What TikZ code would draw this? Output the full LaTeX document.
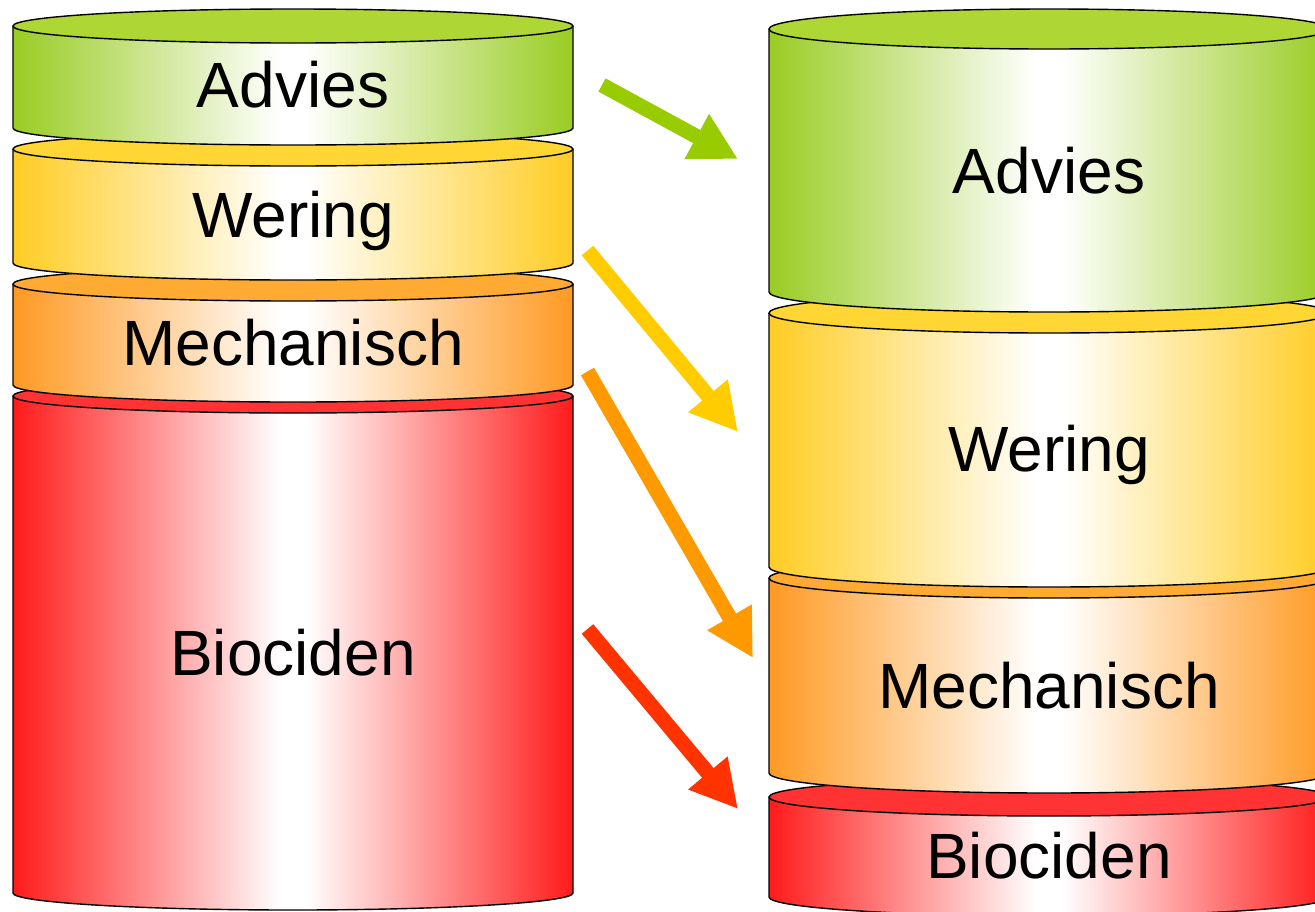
\documentclass[tikz,border=0pt]{standalone}
\usepackage{fontspec}
\setmainfont{Liberation Sans}
\usetikzlibrary{arrows.meta}
\definecolor{gEdge}{HTML}{99CC22}
\definecolor{gTop}{HTML}{AED634}
\definecolor{yEdge}{HTML}{FFCC22}
\definecolor{yTop}{HTML}{FFD633}
\definecolor{oEdge}{HTML}{FF9922}
\definecolor{oTop}{HTML}{FFAA33}
\definecolor{rEdge}{HTML}{FF1A1A}
\definecolor{rTop}{HTML}{FF3333}
\definecolor{gArrow}{HTML}{99CC00}
\definecolor{yArrow}{HTML}{FFCC00}
\definecolor{oArrow}{HTML}{FF9900}
\definecolor{rArrow}{HTML}{FF3300}
\newcommand\mycyl[6]{%
  \begin{scope}
    \clip ({#1-280},#2) -- ({#1-280},#3) arc[start angle=180,end angle=360,x radius=280pt,y radius=#4pt] -- ({#1+280},#2) -- cycle;
    \shade[left color=#5, right color=white] ({#1-281},{#2-1}) rectangle ({#1-13},{#3+#4+2});
    \fill[white] ({#1-14},{#2-1}) rectangle ({#1+14},{#3+#4+2});
    \shade[left color=white, right color=#5] ({#1+13},{#2-1}) rectangle ({#1+281},{#3+#4+2});
  \end{scope}
  \draw[cylline]
    ({#1-280},#2) -- ({#1-280},#3) arc[start angle=180,end angle=360,x radius=280pt,y radius=#4pt] -- ({#1+280},#2);
  \draw[cylline, fill=#6] (#1,#2) ellipse [x radius=280pt, y radius=#4pt];
}
\tikzset{
  cylline/.style={line width=1.4pt, black},
  label/.style={font=\fontsize{64}{72}\selectfont, anchor=base, inner sep=0pt},
  bigarrow/.style={line width=15pt, -{Triangle[length=47pt,width=48pt]}},
}
\begin{document}
\begin{tikzpicture}[x=1pt,y=-1pt]
\useasboundingbox (0,0) rectangle (1315,911);
\clip (0,0) rectangle (1315,911);
% right stack
\mycyl{1049}{797}{897}{19}{rEdge}{rTop}
\mycyl{1049}{578}{773}{20}{oEdge}{oTop}
\mycyl{1049}{313}{567}{20}{yEdge}{yTop}
\mycyl{1049}{29}{292}{20}{gEdge}{gTop}
% left stack
\mycyl{293}{396}{893}{17}{rEdge}{rTop}
\mycyl{293}{284}{385}{17}{oEdge}{oTop}
\mycyl{293}{149}{263}{17}{yEdge}{yTop}
\mycyl{293}{26}{128}{17}{gEdge}{gTop}
% labels
\node[label] (lA) at (293,107) {Advies};
\node[label] (lW) at (293,237) {Wering};
\node[label] (lM) at (293,365) {Mechanisch};
\node[label] (lB) at (293,675) {Biociden};
\node[label] (rA) at (1049,193) {Advies};
\node[label] (rW) at (1049,471) {Wering};
\node[label] (rM) at (1049,708) {Mechanisch};
\node[label] (rB) at (1049,878) {Biociden};
% arrows
\coordinate (gs) at (602,85);
\coordinate (ge) at (738,159);
\coordinate (ys) at (587.5,250.5);
\coordinate (ye) at (738,432);
\coordinate (os) at (587.5,371.5);
\coordinate (oe) at (753,658);
\coordinate (rs) at (587.5,629);
\coordinate (re) at (738,809);
\draw[bigarrow, gArrow] (gs) -- (ge);
\draw[bigarrow, yArrow] (ys) -- (ye);
\draw[bigarrow, oArrow] (os) -- (oe);
\draw[bigarrow, rArrow] (rs) -- (re);
\end{tikzpicture}
\end{document}
